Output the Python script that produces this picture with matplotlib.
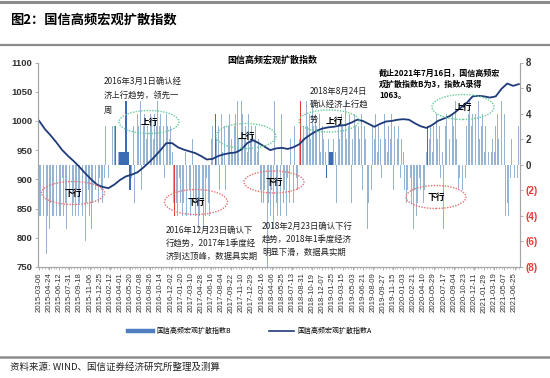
import matplotlib
matplotlib.use('Agg')
import matplotlib.pyplot as plt
from matplotlib.patches import Ellipse
from matplotlib.lines import Line2D
import pandas as pd

plt.rcParams['font.family'] = ['Noto Sans CJK SC', 'DejaVu Sans']

# weekly dates, Friday 2015-03-06 .. 2021-07-16
weeks = pd.date_range('2015-03-06', periods=333, freq='7D')

# index B (bars, right axis), one value per week
index_b = [
    -4, -4, -2, -4, -3, -7, -4, -5, -3, -4, -4, -2, -4, -3, -4, -4, -1, -4, -3, -5,
    -4, -2, -4, -4, -3, -4, -2, -4, -3, -1, -4, -4, -6, -3, -2, -4, -5, -3, -1, -2,
    -4, -3, -1, -2, -3, -1, 3, -1,
    -1, 3, 0, 3, 3, 3, 0, 1,
    1, 1, 1, 1, 5, 1, 1, -2, -1,
    3, -3, 2, 4, 3, 5, -2, 3, 4, 2, 3, 5, 4, 3, 2, 4, 3, 5, 3, 4, 2, 3, -1, 4, 3, 2, 3, 1,
    -3, -4,
    -3, -4, -1, -3, -4, -3, 1, -4, -3, -2, -4, 2, -3, -4, -3, -5, -4, -2, -3, -5, -4, -1, -3, -4, 2, 3,
    3, 4,
    2, 3, -2, 4, 1, 3, -2, 2, 3, 4, 2, 1, 3, 4, 5, 2, 3, 5, 4, 2, 3, 1, 4, 2, 3, -1, 2, 3, 1, 2, -2, -3,
    -3, -2, -4, -8, -3, -4, -2, -5, 5, -3, -4, -2, -4, 4, -3, -2, -4, -1, -3, 2, -2, -3, 3, -1, -2, 2,
    5,
    2, 3, 4, 5, 3, 4, 2, 5, 3, 4, 3, 2, 4, 1, 3, 2, 1, -1, 2, 1, 1, 1, 2, 1, -3,
    3, 2, 4, 3, 1, 5, 2, 3, 4, -3, 2, 4, 3, 1, 3, 2, 4, -2, 3, 2, -5, -3, -5, -2,
    3, 2, 4, 1, 3, 2, -1, 3, 4, 2, 1, 3, 2, 4, -2, 3, 1, 2, 3, -1, 2, 1, -2,
    -3, -2, -4, -1, -3, -5, -2, -4, -3, -1, -2, -4, -3, -2, 1,
    3,
    2, 3, 1, 3, 2, 4, 2, 3, -1, 1, -5, 3, 4, 5, 2, 3, 4, 3, 5, 2, -2, -1, -2, -2, 1, -1,
    3, 4, 5, 3, 4, 2, 4, 3, 5, 2, 3, 4, 1, 3, 2, 1, -1, 1, 2,
    1, 3, 4, 2, 4, 5, 3, 4, -4, -3, -4, -1, 2, 3, -1, 1, -1, 3,
]
assert len(index_b) == len(weeks), len(index_b)

# index A (line, left axis), read every 4 weeks
a_weeks = list(range(0, 333, 4))
index_a = [
    1000, 986, 975, 963, 950, 940, 931, 921, 910, 900,
    891, 887, 885, 891, 899, 905, 908, 912, 920, 929,
    939, 950, 962, 962, 955, 951, 948, 945, 940, 934,
    935, 940, 943, 945, 946, 951, 962, 967, 962, 956,
    950, 953, 954, 952, 955, 960, 970, 977, 983, 987,
    989, 990, 992, 993, 997, 1002, 1000, 995, 990, 995,
    999, 1000, 1002, 1003, 1002, 996, 991, 988, 993, 1000,
    1004, 1008, 1015, 1023, 1031, 1042, 1043, 1042, 1040, 1042,
    1055, 1064, 1060, 1063,
]

red_weeks = [53, 94, 122, 181, 269]
dark_weeks = [56, 57, 58, 59, 60, 61, 62, 63, 199, 201, 202, 203]

W, H = 550, 378
fig = plt.figure(figsize=(5.5, 3.78), dpi=100)


def fx(x):
    return x / W


def fy(y):
    return 1 - y / H


# header
fig.add_artist(Line2D([0, 1], [fy(2), fy(2)], color='#8c8c8c', lw=2.2))
fig.add_artist(Line2D([0, 1], [fy(45), fy(45)], color='#8c8c8c', lw=1.6))
fig.add_artist(Line2D([0, 1], [fy(357), fy(357)], color='#8c8c8c', lw=1.8))
fig.text(fx(10), fy(20), '图2：国信高频宏观扩散指数', fontsize=9.5, fontweight='bold',
         va='center', ha='left')
fig.text(fx(10), fy(367), '资料来源: WIND、国信证券经济研究所整理及测算', fontsize=6.8,
         va='center', ha='left', color='#222222')

ax = fig.add_axes([fx(38), fy(267), 482 / W, 204.5 / H])
axl = ax.twinx()
ax.yaxis.tick_right()
axl.yaxis.tick_left()

xs = list(range(len(index_b)))
colors = []
widths = []
for i in xs:
    if i in red_weeks:
        colors.append('#e53935')
        widths.append(0.7)
    elif i in dark_weeks:
        colors.append('#3b6cb4')
        widths.append(1.0)
    else:
        colors.append('#97b4d3')
        widths.append(0.6)
ax.bar(xs, index_b, width=widths, color=colors, linewidth=0)
# the highlighted tall bar drawn on top as a thin darker line
ax.bar([60], [index_b[60]], width=0.45, color='#2f5ea8', linewidth=0)

axl.plot(a_weeks, index_a, color='#1f3a7a', lw=1.3)

ax.set_xlim(-0.8, len(index_b) - 0.2)
ax.set_ylim(-8, 8)
axl.set_ylim(750, 1100)

ax.set_yticks(range(-8, 9, 2))
ax.set_yticklabels([('(%d)' % -v) if v < 0 else str(v) for v in range(-8, 9, 2)])
for lab, v in zip(ax.get_yticklabels(), range(-8, 9, 2)):
    lab.set_color('#e53935' if v < 0 else '#333333')
    lab.set_fontweight('bold')
    lab.set_fontfamily('Liberation Sans')
    lab.set_fontsize(7)

axl.set_yticks(range(750, 1101, 50))
for lab in axl.get_yticklabels():
    lab.set_fontweight('bold')
    lab.set_fontfamily('Liberation Sans')
    lab.set_fontsize(6.8)
    lab.set_color('#333333')

tick_pos = list(range(0, len(weeks), 7))
ax.set_xticks(tick_pos)
ax.set_xticklabels([weeks[i].strftime('%Y-%m-%d') for i in tick_pos], rotation=90,
                   fontsize=5.6, fontfamily='Liberation Sans', color='#333333')
ax.set_xticks(range(0, len(weeks), 2), minor=True)

for a in (ax, axl):
    a.spines['top'].set_visible(False)
    for s in ('left', 'right', 'bottom'):
        a.spines[s].set_color('#a6a6a6')
        a.spines[s].set_linewidth(0.8)
ax.tick_params(axis='x', which='major', length=2.5, width=0.6, color='#a6a6a6', pad=1.5)
ax.tick_params(axis='x', which='minor', length=1.5, width=0.5, color='#a6a6a6')
ax.tick_params(axis='y', length=2.5, width=0.6, color='#a6a6a6', pad=1.5)
axl.tick_params(axis='y', length=2.5, width=0.6, color='#a6a6a6', pad=1.5)

fig.text(fx(272), fy(60), '国信高频宏观扩散指数', fontsize=6.5, fontweight='bold',
         ha='center', va='center')

# ellipses with their labels (center x, center y, width, height, text x)
ups = [(149, 122, 60, 23, 149), (246, 136, 60, 25, 246), (329, 121, 60, 22, 334),
       (463, 107, 62, 25, 463)]
downs = [(73, 193, 63, 23, 73), (196, 202, 63, 25, 196), (274, 182, 60, 22, 274),
         (436, 197, 60, 23, 436)]
for (cx, cy, w, h, tx) in ups:
    fig.add_artist(Ellipse((fx(cx), fy(cy)), w / W, h / H, fill=False, ec='#66cc99',
                           ls=(0, (1, 1)), lw=1.0, transform=fig.transFigure))
    fig.text(fx(tx), fy(cy), '上行', fontsize=6.3, fontweight='bold', ha='center', va='center')
for (cx, cy, w, h, tx) in downs:
    fig.add_artist(Ellipse((fx(cx), fy(cy)), w / W, h / H, fill=False, ec='#e87070',
                           ls=(0, (1, 1)), lw=1.0, transform=fig.transFigure))
    fig.text(fx(tx), fy(cy), '下行', fontsize=6.3, fontweight='bold', ha='center', va='center')

# annotations
fig.text(fx(104), fy(77), '2016年3月1日确认经\n济上行趋势，领先一\n周', fontsize=6,
         ha='left', va='top', linespacing=1.75, color='#222222')
fig.text(fx(166), fy(226), '2016年12月23日确认下\n行趋势，2017年1季度经\n济到达顶峰，数据具实期',
         fontsize=6, ha='left', va='top', linespacing=1.55, color='#222222')
fig.text(fx(262), fy(222), '2018年2月23日确认下行\n趋势，2018年1季度经济\n明显下滑，数据具实期',
         fontsize=6, ha='left', va='top', linespacing=1.55, color='#222222')
fig.text(fx(310), fy(87), '2018年8月24日\n确认经济上行趋', fontsize=6,
         ha='left', va='top', linespacing=1.5, color='#222222')
fig.text(fx(310), fy(119), '势', fontsize=6, ha='left', va='center', color='#222222')
fig.text(fx(379), fy(69), '截止2021年7月16日，国信高频宏\n观扩散指数B为3，指数A录得\n1063。',
         fontsize=5.8, fontweight='bold', ha='left', va='top', linespacing=1.3)

handles = [Line2D([], [], color='#4f7fc0', lw=3.2), Line2D([], [], color='#1f3a7a', lw=1.2)]
fig.legend(handles, ['国信高频宏观扩散指数B', '国信高频宏观扩散指数A'], loc='center',
           bbox_to_anchor=(fx(250), fy(331)), ncol=2, frameon=False, fontsize=5,
           handlelength=3.6, columnspacing=5.5, handletextpad=0.5)

fig.savefig('out.png', dpi=100)
